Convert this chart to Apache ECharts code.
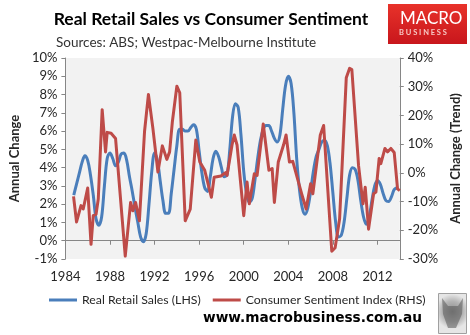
<!DOCTYPE html>
<html>
<head>
<meta charset="utf-8">
<script src="https://cdn.jsdelivr.net/npm/echarts@6/dist/echarts.min.js"></script>
<style>
  html, body { margin: 0; padding: 0; background: #ffffff; }
  #chart { width: 470px; height: 335px; }
</style>
</head>
<body>
<div id="chart"></div>
<script>
// Real retail sales, annual % change (left axis), [year, value]
var retailSales = [
  [1984.75, 2.5], [1985.0, 3.1], [1985.25, 3.7], [1985.5, 4.3], [1985.75, 4.65],
  [1986.0, 4.4], [1986.25, 3.6], [1986.5, 2.5], [1986.75, 1.2], [1987.0, 0.85],
  [1987.25, 1.3], [1987.5, 3.0], [1987.75, 4.5], [1988.0, 4.8], [1988.25, 4.5],
  [1988.5, 4.1], [1988.75, 4.3], [1989.0, 4.75], [1989.25, 4.8], [1989.5, 4.4],
  [1989.75, 3.5], [1990.0, 2.7], [1990.25, 1.8], [1990.5, 1.0], [1990.75, 0.2],
  [1991.0, -0.05], [1991.25, 0.4], [1991.5, 2.0], [1991.75, 3.8], [1992.0, 4.8],
  [1992.25, 4.4], [1992.5, 3.3], [1992.75, 2.2], [1993.0, 1.5], [1993.25, 1.5],
  [1993.5, 2.6], [1993.75, 3.9], [1994.0, 5.2], [1994.25, 6.1], [1994.5, 6.1],
  [1994.75, 6.0], [1995.0, 6.0], [1995.25, 6.2], [1995.5, 6.35], [1995.75, 6.1],
  [1996.0, 4.9], [1996.25, 3.7], [1996.5, 2.9], [1996.75, 2.7], [1997.0, 3.5],
  [1997.25, 4.5], [1997.5, 4.9], [1997.75, 4.6], [1998.0, 4.0], [1998.25, 3.5],
  [1998.5, 3.6], [1998.75, 5.0], [1999.0, 6.8], [1999.25, 7.5], [1999.5, 7.3],
  [1999.75, 5.8], [2000.0, 3.8], [2000.25, 2.6], [2000.5, 2.1], [2000.75, 2.3],
  [2001.0, 3.3], [2001.25, 4.5], [2001.5, 5.5], [2001.75, 6.1], [2002.0, 6.3],
  [2002.25, 6.3], [2002.5, 6.0], [2002.75, 5.6], [2003.0, 5.4], [2003.25, 5.8],
  [2003.5, 7.2], [2003.75, 8.5], [2004.0, 9.0], [2004.25, 8.6], [2004.5, 7.0],
  [2004.75, 4.5], [2005.0, 2.8], [2005.25, 1.8], [2005.5, 1.45], [2005.75, 1.8],
  [2006.0, 2.7], [2006.25, 3.8], [2006.5, 4.6], [2006.75, 5.0], [2007.0, 5.4],
  [2007.25, 5.5], [2007.5, 5.2], [2007.75, 4.2], [2008.0, 2.6], [2008.25, 1.0],
  [2008.5, 0.2], [2008.75, 0.3], [2009.0, 1.0], [2009.25, 2.3], [2009.5, 3.6],
  [2009.75, 4.0], [2010.0, 3.9], [2010.25, 3.3], [2010.5, 2.2], [2010.75, 1.3],
  [2011.0, 0.9], [2011.25, 1.3], [2011.5, 2.2], [2011.75, 3.0], [2012.0, 3.3],
  [2012.25, 3.1], [2012.5, 2.6], [2012.75, 2.2], [2013.0, 2.15], [2013.25, 2.4],
  [2013.5, 2.8], [2013.75, 2.9]
];

// Consumer sentiment index, annual % change of trend (right axis), [year, value]
var sentiment = [
  [1984.73, -8.2], [1985.0, -17.1], [1985.4, -11.4], [1985.6, -12.6], [1986.0, -5.3],
  [1986.3, -24.9], [1986.5, -14.9], [1986.75, -14.4], [1986.95, -9.1], [1987.3, 22.0],
  [1987.6, 7.3], [1987.75, 14.1], [1988.1, 13.8], [1988.5, 12.0], [1989.37, -29.0],
  [1989.85, -10.3], [1990.05, -13.2], [1990.3, -10.3], [1990.64, -16.7], [1991.1, 14.4],
  [1991.45, 27.3], [1991.85, 15.5], [1992.3, 0.3], [1992.7, 9.4], [1993.1, 4.7],
  [1993.35, 7.3], [1993.6, 17.9], [1994.0, 30.2], [1994.26, 27.9], [1994.75, -16.7],
  [1995.2, -12.6], [1995.7, 11.4], [1996.06, 3.8], [1996.5, 0.9], [1997.1, -8.5],
  [1997.35, -1.5], [1997.95, -1.1], [1998.4, 0.1], [1998.5, -0.9], [1998.95, 9.7],
  [1999.15, 13.2], [1999.4, 9.7], [2000.0, -14.9], [2000.3, -3.2], [2000.5, -10.8],
  [2000.95, -0.3], [2001.2, -0.9], [2001.75, 17.0], [2002.26, 0.9], [2002.55, 1.5],
  [2002.75, -10.3], [2003.1, 3.8], [2003.57, 9.7], [2003.8, 13.2], [2004.1, 3.8],
  [2004.4, 4.0], [2005.2, -7.3], [2005.6, -12.6], [2006.0, -3.8], [2006.2, -7.3],
  [2006.87, 13.2], [2007.17, 16.5], [2007.9, -27.3], [2008.2, -26.1], [2008.6, -16.1],
  [2009.2, 33.1], [2009.5, 36.4], [2009.7, 36.0], [2010.3, 2.6], [2010.7, -10.8],
  [2010.9, -5.0], [2011.2, -19.6], [2011.65, -7.3], [2011.86, -6.7], [2012.15, 5.0],
  [2012.3, 3.2], [2012.67, 8.5], [2012.9, 7.3], [2013.2, 8.5], [2013.5, 7.1],
  [2013.8, -5.6], [2014.0, -6.2]
];

var seriesNames = ['Real Retail Sales (LHS)', 'Consumer Sentiment Index (RHS)'];
var titleText = 'Real Retail Sales vs Consumer Sentiment';
var subtitleText = 'Sources: ABS; Westpac-Melbourne Institute';
var leftAxisName = 'Annual Change';
var rightAxisName = 'Annual Change (Trend)';
var yearRange = [1984, 2014];
var leftRange = [-1, 10];
var rightRange = [-30, 40];

var BLUE = '#4a7ebb';
var RED = '#be4b48';
var AXIS = '#868686';
var TXT = '#262626';
var FONT = 'Lato, "Liberation Sans", sans-serif';

var chart = echarts.init(document.getElementById('chart'), null, { renderer: 'canvas' });

chart.setOption({
  animation: false,
  backgroundColor: '#ffffff',
  textStyle: { fontFamily: FONT },
  title: [
    {
      text: titleText,
      left: 206, top: 5, textAlign: 'center',
      textStyle: { fontFamily: FONT, fontWeight: 'bold', fontSize: 17.5, color: '#000000' }
    },
    {
      text: subtitleText,
      left: 51, top: 31,
      textStyle: { fontFamily: FONT, fontWeight: 'normal', fontSize: 13.5, color: '#333333' }
    }
  ],
  legend: {
    left: 44, top: 289,
    itemWidth: 28, itemHeight: 3, itemGap: 12,
    icon: 'rect',
    textStyle: { fontFamily: FONT, fontSize: 12.3, color: TXT },
    data: seriesNames
  },
  grid: { left: 56, right: 68, top: 58, bottom: 76, show: true, backgroundColor: '#f2f2f2', borderWidth: 0 },
  xAxis: {
    type: 'value',
    min: yearRange[0], max: yearRange[1], interval: 4,
    axisLine: { onZero: true, onZeroAxisIndex: 0, lineStyle: { color: AXIS, width: 1 } },
    axisTick: { show: true, length: 4, lineStyle: { color: AXIS } },
    splitLine: { show: false },
    axisLabel: {
      margin: 11, color: TXT, fontSize: 13, fontFamily: FONT,
      formatter: function (v) { return v % 4 === 0 ? String(v) : ''; }
    }
  },
  yAxis: [
    {
      type: 'value', position: 'left',
      min: leftRange[0], max: leftRange[1], interval: 1,
      name: leftAxisName, nameLocation: 'middle', nameGap: 40, nameRotate: 90,
      nameTextStyle: { fontFamily: FONT, fontWeight: 'bold', fontSize: 13, color: TXT },
      axisLine: { show: true, lineStyle: { color: AXIS } },
      axisTick: { show: true, length: 4, lineStyle: { color: AXIS } },
      splitLine: { show: false },
      axisLabel: { color: TXT, fontSize: 13, fontFamily: FONT, margin: 8, formatter: '{value}%' }
    },
    {
      type: 'value', position: 'right',
      min: rightRange[0], max: rightRange[1], interval: 10,
      name: rightAxisName, nameLocation: 'middle', nameGap: 49, nameRotate: 90,
      nameTextStyle: { fontFamily: FONT, fontWeight: 'bold', fontSize: 13, color: TXT },
      axisLine: { show: true, lineStyle: { color: AXIS } },
      axisTick: { show: true, length: 4, lineStyle: { color: AXIS } },
      splitLine: { show: false },
      axisLabel: { color: TXT, fontSize: 13, fontFamily: FONT, margin: 8, formatter: '{value}%' }
    }
  ],
  series: [
    {
      name: seriesNames[0], type: 'line', yAxisIndex: 0,
      data: retailSales, smooth: 0.35, showSymbol: false, z: 3,
      lineStyle: { color: BLUE, width: 3 }, itemStyle: { color: BLUE }
    },
    {
      name: seriesNames[1], type: 'line', yAxisIndex: 1,
      data: sentiment, smooth: false, showSymbol: false, z: 4,
      lineStyle: { color: RED, width: 3, join: 'round' }, itemStyle: { color: RED }
    }
  ],
  graphic: [
    // MacroBusiness badge
    {
      type: 'rect', left: 388, top: 4, z: 10,
      shape: { width: 79, height: 40 },
      style: {
        fill: new echarts.graphic.LinearGradient(0, 0, 0, 1, [
          { offset: 0, color: '#e8322a' }, { offset: 1, color: '#c8161c' }
        ])
      }
    },
    {
      type: 'text', left: 400, top: 10, z: 11,
      style: { text: 'MACRO', fill: '#ffffff', font: '17px ' + FONT }
    },
    {
      type: 'text', left: 399, top: 29, z: 11,
      style: { text: 'B U S I N E S S', fill: '#f6c8c4', font: 'bold 7.5px ' + FONT }
    },
    {
      type: 'text', left: 203, top: 311, z: 10,
      style: { text: 'www.macrobusiness.com.au', fill: '#000000', font: 'bold 13.7px "DejaVu Sans", sans-serif' }
    },
    // small framed portrait
    {
      type: 'rect', left: 438, top: 293, z: 10,
      shape: { width: 28, height: 40 },
      style: {
        fill: new echarts.graphic.RadialGradient(0.5, 0.45, 0.6, [
          { offset: 0, color: '#8a8a8a' }, { offset: 0.6, color: '#b5b5b5' }, { offset: 1, color: '#e6e6e6' }
        ]),
        stroke: '#a0a0a0', lineWidth: 1
      }
    },
    {
      type: 'polygon', z: 11,
      shape: { points: [[442, 298], [448, 306], [458, 306], [463, 298], [462, 314], [456, 328], [448, 328], [443, 314]] },
      style: { fill: 'rgba(90,90,90,0.55)' }
    }
  ]
});
</script>
</body>
</html>
